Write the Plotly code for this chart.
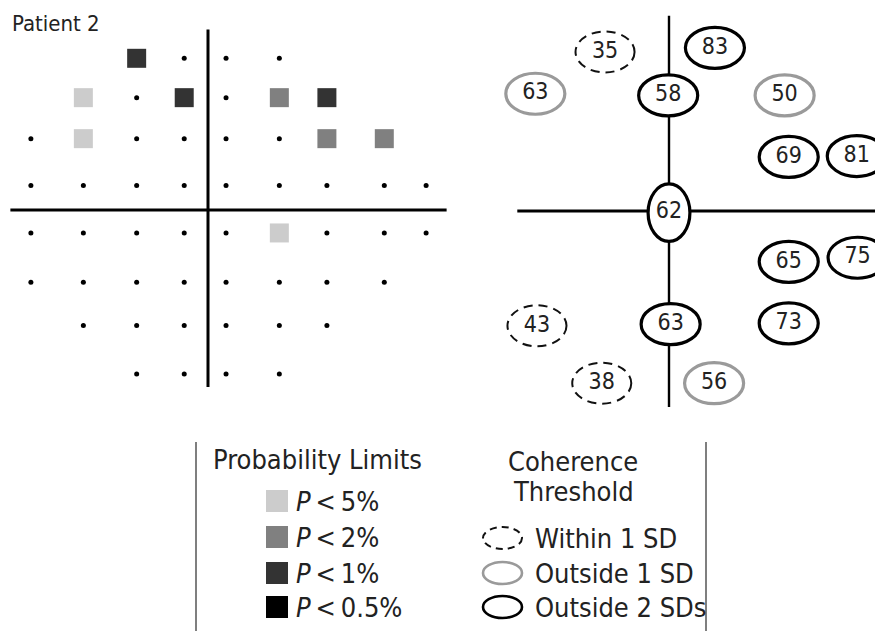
import plotly.graph_objects as go

# ---------------- data ----------------
# Left panel: visual field grid (degrees), pattern per row
FIELD_COLS_DEG = [-21.6, -15.2, -8.7, -2.9, 2.2, 8.7, 14.5, 21.5, 26.6]
FIELD_ROWS_DEG = [18.5, 13.7, 8.7, 3.0, -2.8, -8.8, -14.1, -20.0]
# '.' = normal point, 'a' P<5%, 'b' P<2%, 'c' P<1%, 'd' P<0.5%, ' ' = not tested
FIELD_ROWS = [
    "  c...   ",
    " a.c.bc  ",
    ".a....bb ",
    ".........",
    ".....a...",
    "........ ",
    " ......  ",
    "  ....   ",
]
PROB_CODES = ["a", "b", "c", "d"]
PROB_LABELS = ["<i>P</i>&#8201;&lt;&#8201;5%", "<i>P</i>&#8201;&lt;&#8201;2%",
               "<i>P</i>&#8201;&lt;&#8201;1%", "<i>P</i>&#8201;&lt;&#8201;0.5%"]

# Right panel: coherence thresholds
CT_VALUES = [35, 83, 63, 58, 50, 69, 81, 62, 65, 75, 43, 63, 73, 38, 56]
CT_X = [-7.8, 5.6, -16.3, -0.1, 14.1, 14.6, 22.9, 0.0, 14.6, 23.0, -16.1, 0.2, 14.6, -8.2, 5.5]
CT_Y = [19.4, 19.9, 14.3, 14.1, 14.1, 6.6, 6.7, -0.2, -6.2, -5.7, -14.0, -13.8, -13.7, -21.0, -21.0]
CT_CLASS = ["w1", "o2", "o1", "o2", "o1", "o2", "o2", "o2", "o2", "o2", "w1", "o2", "o2", "w1", "o1"]
CT_CLASS_KEYS = ["w1", "o1", "o2"]
CT_CLASS_LABELS = ["Within 1 SD", "Outside 1 SD", "Outside 2 SDs"]

# ---------------- styles ----------------
PAGE_W, PAGE_H = 883, 631
OFF = 8                       # default page margin of the html body
W, H = PAGE_W - OFF, PAGE_H - OFF
FONT = "DejaVu Sans Condensed, Liberation Sans Narrow, Arial Narrow, sans-serif"
TXT = "#222222"
PROB_COLORS = {"a": "#cccccc", "b": "#808080", "c": "#333333", "d": "#000000"}
CT_STYLE = {
    "w1": dict(color="#111111", width=2, dash="9px,6px"),
    "o1": dict(color="#9a9a9a", width=3.2, dash="solid"),
    "o2": dict(color="#000000", width=3.2, dash="solid"),
}
CT_LEG_STYLE = {
    "w1": dict(color="#111111", width=2, dash="7px,5px"),
    "o1": dict(color="#9a9a9a", width=2.6, dash="solid"),
    "o2": dict(color="#000000", width=2.6, dash="solid"),
}
SCALE = 8.2  # px per degree

fig = go.Figure()

# left-panel points
for code_set, color, size, symbol in [(".", "#000000", 5, "circle")] + [
    (c, PROB_COLORS[c], 19, "square") for c in PROB_CODES
]:
    xs, ys = [], []
    for r, row in enumerate(FIELD_ROWS):
        for c, ch in enumerate(row):
            if ch == code_set:
                xs.append(FIELD_COLS_DEG[c])
                ys.append(FIELD_ROWS_DEG[r])
    if xs:
        fig.add_trace(go.Scatter(
            x=xs, y=ys, mode="markers", xaxis="x", yaxis="y",
            marker=dict(symbol=symbol, size=size, color=color, line=dict(width=0)),
            hoverinfo="skip", showlegend=False))

shapes = []
# left-panel axes
shapes.append(dict(type="line", xref="x", yref="y", x0=-24.1, x1=29.1, y0=0, y1=0,
                   line=dict(color="#000", width=3), layer="below"))
shapes.append(dict(type="line", xref="x", yref="y", x0=0, x1=0, y0=22.0, y1=-21.6,
                   line=dict(color="#000", width=3), layer="below"))
# right-panel axes
shapes.append(dict(type="line", xref="x2", yref="y2", x0=-18.5, x1=27, y0=0, y1=0,
                   line=dict(color="#000", width=3), layer="below"))
shapes.append(dict(type="line", xref="x2", yref="y2", x0=0, x1=0, y0=23.8, y1=-23.9,
                   line=dict(color="#000", width=2.4), layer="below"))

# ellipses
for x, y, cls in zip(CT_X, CT_Y, CT_CLASS):
    if abs(x) < 0.5 and abs(y) < 0.5:
        hw, hh = 2.55, 3.5   # central point drawn upright
    else:
        hw, hh = 3.6, 2.5
    shapes.append(dict(type="circle", xref="x2", yref="y2",
                       x0=x - hw, x1=x + hw, y0=y - hh, y1=y + hh,
                       fillcolor="white", line=CT_STYLE[cls], layer="below"))

fig.add_trace(go.Scatter(
    x=CT_X, y=CT_Y, mode="text", xaxis="x2", yaxis="y2",
    text=[str(v) for v in CT_VALUES], textposition="middle center",
    textfont=dict(family=FONT, size=23, color=TXT),
    hoverinfo="skip", showlegend=False))


def px(xp):
    return (xp - OFF) / W


def py(yp):
    return 1 - (yp - OFF) / H


annotations = []
annotations.append(dict(text="Patient 2", x=px(10), y=py(23), xref="paper", yref="paper",
                        xanchor="left", yanchor="middle", showarrow=False,
                        font=dict(family=FONT, size=22, color=TXT)))

# legend frame lines
for xl in (196, 706):
    shapes.append(dict(type="line", xref="paper", yref="paper", x0=px(xl), x1=px(xl),
                       y0=py(442), y1=py(PAGE_H), line=dict(color="#555", width=1.5)))

annotations.append(dict(text="Probability Limits", x=px(317), y=py(459), xref="paper", yref="paper",
                        xanchor="center", yanchor="middle", showarrow=False,
                        font=dict(family=FONT, size=27, color=TXT)))
for txt, yy in (("Coherence", 461), ("Threshold", 491)):
    annotations.append(dict(text=txt, x=px(573), y=py(yy), xref="paper", yref="paper",
                            xanchor="center", yanchor="middle", showarrow=False,
                            font=dict(family=FONT, size=27, color=TXT)))

prob_y = [501, 537, 573, 607]
for code, lab, yy in zip(PROB_CODES, PROB_LABELS, prob_y):
    shapes.append(dict(type="rect", xref="paper", yref="paper",
                       x0=px(266), x1=px(288), y0=py(yy - 11), y1=py(yy + 11),
                       fillcolor=PROB_COLORS[code], line=dict(width=0)))
    annotations.append(dict(text=lab, x=px(294), y=py(yy), xref="paper", yref="paper",
                            xanchor="left", yanchor="middle", showarrow=False,
                            font=dict(family=FONT, size=27, color=TXT)))

ct_y = [538, 573, 607]
for key, lab, yy in zip(CT_CLASS_KEYS, CT_CLASS_LABELS, ct_y):
    shapes.append(dict(type="circle", xref="paper", yref="paper",
                       x0=px(483), x1=px(522), y0=py(yy - 11), y1=py(yy + 11),
                       fillcolor="white", line=CT_LEG_STYLE[key]))
    annotations.append(dict(text=lab, x=px(533), y=py(yy), xref="paper", yref="paper",
                            xanchor="left", yanchor="middle", showarrow=False,
                            font=dict(family=FONT, size=27, color=TXT)))

ax_common = dict(visible=False, showgrid=False, zeroline=False, fixedrange=True)
SPLIT_X = 460   # page x where the two panels meet
TOP_H = 420     # page y where the panels end
fig.update_layout(
    width=W, height=H,
    margin=dict(l=0, r=0, t=0, b=0, pad=0),
    paper_bgcolor="white", plot_bgcolor="rgba(0,0,0,0)",
    showlegend=False,
    xaxis=dict(domain=[0, px(SPLIT_X)], range=[(OFF - 208) / SCALE, (SPLIT_X - 208) / SCALE],
               **ax_common),
    yaxis=dict(domain=[py(TOP_H), 1], range=[(210 - TOP_H) / SCALE, (210 - OFF) / SCALE],
               **ax_common),
    xaxis2=dict(domain=[px(SPLIT_X), 1], range=[(SPLIT_X - 669) / SCALE, (PAGE_W - 669) / SCALE],
                anchor="y2", **ax_common),
    yaxis2=dict(domain=[py(TOP_H), 1], range=[(211 - TOP_H) / SCALE, (211 - OFF) / SCALE],
                anchor="x2", **ax_common),
    shapes=shapes,
    annotations=annotations,
)

fig.write_html("out.html")
